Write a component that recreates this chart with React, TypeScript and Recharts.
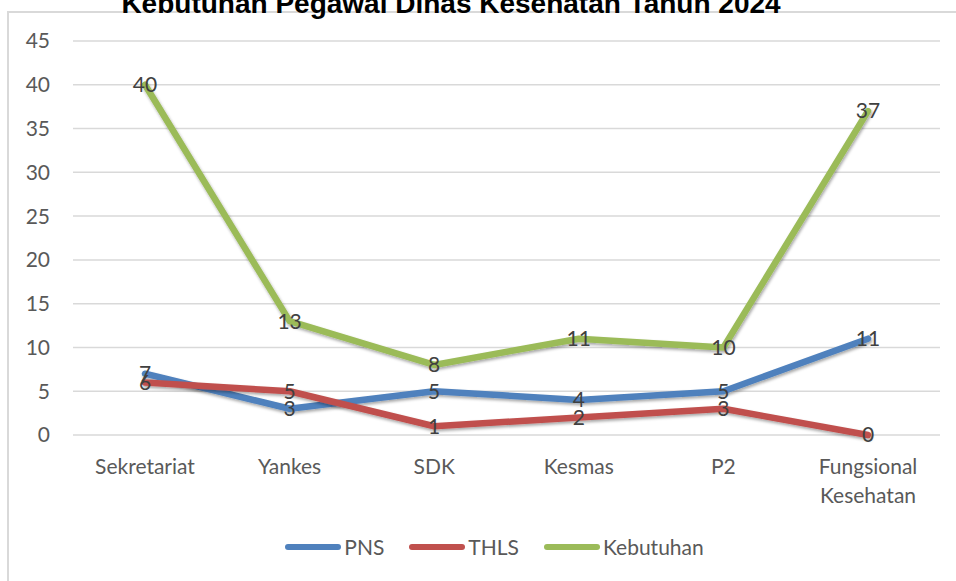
import React from 'react';
import { LineChart, Line, XAxis, YAxis, CartesianGrid, Legend, LabelList, Text } from 'recharts';

// data
const categories = ['Sekretariat', 'Yankes', 'SDK', 'Kesmas', 'P2', 'Fungsional Kesehatan'];
const pns = [7, 3, 5, 4, 5, 11];
const thls = [6, 5, 1, 2, 3, 0];
const kebutuhan = [40, 13, 8, 11, 10, 37];
const yTicks = [0, 5, 10, 15, 20, 25, 30, 35, 40, 45];
const seriesOrder = ['PNS', 'THLS', 'Kebutuhan'];

const data = categories.map((name, i) => ({
  name,
  PNS: pns[i],
  THLS: thls[i],
  Kebutuhan: kebutuhan[i],
}));

const FONT = "Lato, 'Noto Sans', sans-serif";
const TEXT_GREY = '#595959';

const CategoryTick = (props: any) => {
  const { x, y, payload } = props;
  return (
    <Text
      x={x}
      y={y}
      width={140}
      textAnchor="middle"
      verticalAnchor="start"
      lineHeight={29}
      fontSize={21}
      fontFamily={FONT}
      fill={TEXT_GREY}
    >
      {payload.value}
    </Text>
  );
};

const renderLegend = (props: any) => {
  // keep the series order (recharts sorts legend items by name)
  const payload = [...(props.payload || [])].sort(
    (a: any, b: any) => seriesOrder.indexOf(a.value) - seriesOrder.indexOf(b.value)
  );
  return (
    <div style={{ display: 'flex', justifyContent: 'center', alignItems: 'center', fontFamily: FONT, fontSize: 21, color: TEXT_GREY }}>
      {payload.map((entry: any) => (
        <div key={entry.value} style={{ display: 'flex', alignItems: 'center', marginRight: 24 }}>
          <svg width={58} height={12}>
            <line x1={4} y1={6} x2={54} y2={6} stroke={entry.color} strokeWidth={6} strokeLinecap="round" />
          </svg>
          <span style={{ marginLeft: 2 }}>{entry.value}</span>
        </div>
      ))}
    </div>
  );
};

export default function App() {
  const lineProps = {
    type: 'linear' as const,
    strokeWidth: 6.5,
    dot: false,
    activeDot: false,
    isAnimationActive: false,
    strokeLinejoin: 'round' as const,
    strokeLinecap: 'round' as const,
    filter: 'url(#lineShadow)',
  };
  const labelProps = { position: 'center' as const, fill: '#404040', fontSize: 21, fontFamily: FONT };

  return (
    <div style={{ position: 'absolute', left: 0, top: 0, width: 956, height: 581, overflow: 'hidden', background: '#fff' }}>
      {/* chart area border (only top + left visible in the crop) */}
      <div style={{ position: 'absolute', left: 7, top: 11, right: -10, bottom: -10, borderTop: '2px solid #d9d9d9', borderLeft: '2px solid #d9d9d9' }} />

      <div style={{ position: 'absolute', left: 0, top: 0 }}>
        <LineChart width={956} height={581} data={data} margin={{ top: 41, right: 16, left: 0, bottom: 86 }}>
          <defs>
            <filter id="lineShadow" x="-5%" y="-10%" width="110%" height="130%">
              <feDropShadow dx="1" dy="2" stdDeviation="1.5" floodColor="#000" floodOpacity="0.35" />
            </filter>
          </defs>
          <CartesianGrid vertical={false} stroke="#d9d9d9" strokeWidth={1.5} />
          <XAxis
            dataKey="name"
            axisLine={false}
            tickLine={false}
            interval={0}
            height={60}
            padding={{ left: 72, right: 72 }}
            tickMargin={18}
            tick={(p: any) => <CategoryTick {...p} />}
          />
          <YAxis
            domain={[0, 45]}
            ticks={yTicks}
            interval={0}
            axisLine={false}
            tickLine={false}
            width={73}
            tickMargin={17}
            tick={{ fill: TEXT_GREY, fontSize: 21, fontFamily: FONT }}
          />
          <Legend
            verticalAlign="middle"
            align="center"
            layout="horizontal"
            content={renderLegend}
            wrapperStyle={{ top: 534, left: 0, width: 1012 }}
          />
          <Line {...lineProps} dataKey="PNS" stroke="#4f81bd">
            <LabelList dataKey="PNS" {...labelProps} />
          </Line>
          <Line {...lineProps} dataKey="THLS" stroke="#c0504d">
            <LabelList dataKey="THLS" {...labelProps} />
          </Line>
          <Line {...lineProps} dataKey="Kebutuhan" stroke="#9bbb59">
            <LabelList dataKey="Kebutuhan" {...labelProps} />
          </Line>
        </LineChart>
      </div>

      {/* title, cut off at the top as in the reference */}
      <svg width={956} height={40} style={{ position: 'absolute', left: 0, top: 0 }}>
        <text
          x={451}
          y={13}
          textAnchor="middle"
          fontFamily="'Liberation Sans', Arial, sans-serif"
          fontWeight="bold"
          fontSize={28}
          fill="#000"
        >
          Kebutuhan Pegawai Dinas Kesehatan Tahun 2024
        </text>
      </svg>
    </div>
  );
}
